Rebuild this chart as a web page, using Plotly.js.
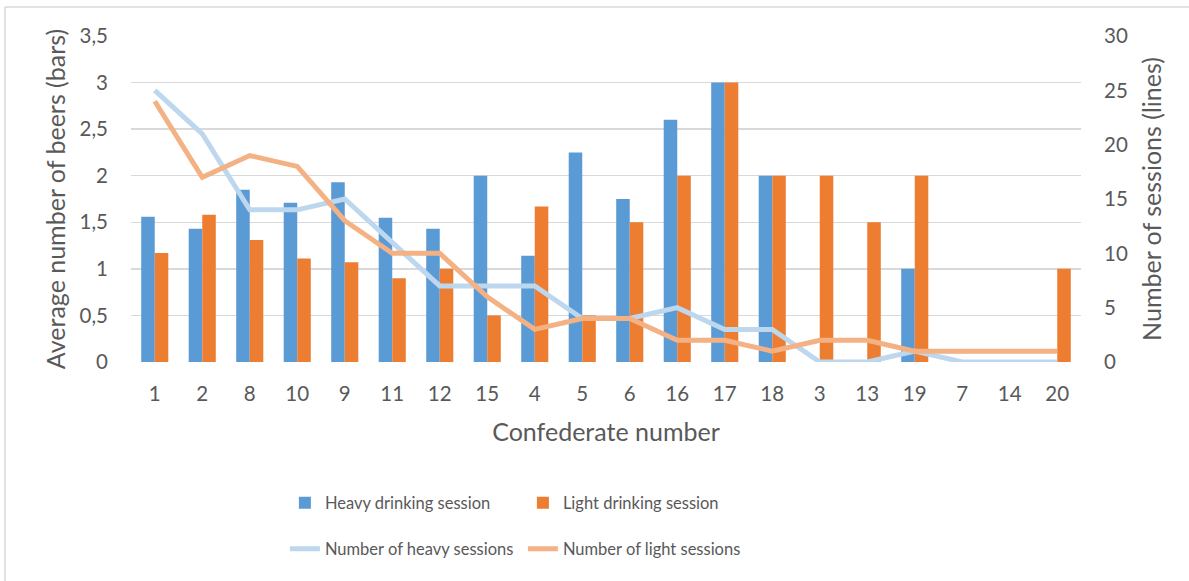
<!DOCTYPE html>
<html>
<head>
<meta charset="utf-8">
<script src="https://cdn.plot.ly/plotly-3.0.1.min.js"></script>
<style>
  html, body { margin: 0; padding: 0; background: #fff; }
  #chart { width: 1189px; height: 581px; }
</style>
</head>
<body>
<div id="chart"></div>
<script>
const confederates = ['1','2','8','10','9','11','12','15','4','5','6','16','17','18','3','13','19','7','14','20'];
const heavyBeers = [1.56,1.43,1.85,1.71,1.93,1.55,1.43,2.0,1.14,2.25,1.75,2.6,3.0,2.0,0,0,1.0,0,0,0];
const lightBeers = [1.17,1.58,1.31,1.11,1.07,0.9,1.0,0.5,1.67,0.5,1.5,2.0,3.0,2.0,2.0,1.5,2.0,0,0,1.0];
const heavySessions = [25,21,14,14,15,11,7,7,7,4,4,5,3,3,0,0,1,0,0,0];
const lightSessions = [24,17,19,18,13,10,10,6,3,4,4,2,2,1,2,2,1,1,1,1];

const FONT = 'Lato, "Open Sans", sans-serif';
const TXT = '#595959';

const traces = [
  {type:'bar', name:'Heavy drinking session', x:confederates, y:heavyBeers,
   marker:{color:'#5B9BD5'}, legend:'legend', hoverinfo:'x+y'},
  {type:'bar', name:'Light drinking session', x:confederates, y:lightBeers,
   marker:{color:'#ED7D31'}, legend:'legend', hoverinfo:'x+y'},
  {type:'scatter', mode:'lines', name:'Number of heavy sessions', x:confederates, y:heavySessions,
   yaxis:'y2', line:{color:'#BDD7EE', width:5}, legend:'legend2'},
  {type:'scatter', mode:'lines', name:'Number of light sessions', x:confederates, y:lightSessions,
   yaxis:'y2', line:{color:'#F4B183', width:5}, legend:'legend2'}
];

const layout = {
  width:1189, height:581,
  margin:{l:131, r:108, t:36, b:219},
  paper_bgcolor:'#fff', plot_bgcolor:'#fff',
  separators:',.',
  font:{family:FONT, color:TXT, size:18},
  barmode:'group', bargap:0.43, bargroupgap:0,
  showlegend:true,
  xaxis:{type:'category', showgrid:false, zeroline:false, showline:false, ticks:'',
         ticklabelstandoff:17, tickfont:{size:20.5, color:TXT},
         title:{text:'Confederate number', font:{size:25, color:TXT}, standoff:19}},
  yaxis:{range:[0,3.5], dtick:0.5, tick0:0, showgrid:true, gridcolor:'#D9D9D9', gridwidth:1.5,
         zeroline:false, showline:false, ticks:'', ticklabelstandoff:22,
         tickfont:{size:20.5, color:TXT},
         title:{text:'Average number of beers (bars)', font:{size:25, color:TXT}, standoff:6}},
  yaxis2:{range:[0,30], dtick:5, tick0:0, overlaying:'y', side:'right', showgrid:false,
          zeroline:false, showline:false, ticks:'', ticklabelstandoff:22,
          tickfont:{size:20.5, color:TXT},
          title:{text:'Number of sessions (lines)', font:{size:25, color:TXT}, standoff:16}},
  legend:{orientation:'h', x:0.162, xanchor:'left', y:-0.4325, yanchor:'middle',
          entrywidth:193, entrywidthmode:'pixels', font:{size:16.5, color:TXT}, bgcolor:'rgba(0,0,0,0)'},
  legend2:{orientation:'h', x:0.162, xanchor:'left', y:-0.574, yanchor:'middle',
          entrywidth:193, entrywidthmode:'pixels', font:{size:16.5, color:TXT}, bgcolor:'rgba(0,0,0,0)'},
  shapes:[
    {type:'line', xref:'paper', yref:'paper', x0:-0.1326, x1:1.12, y0:1.089, y1:1.089, line:{color:'#D9D9D9', width:1.5}},
    {type:'line', xref:'paper', yref:'paper', x0:-0.1326, x1:-0.1326, y0:1.089, y1:-0.7, line:{color:'#D9D9D9', width:1.5}}
  ]
};

Plotly.newPlot('chart', traces, layout, {displayModeBar:false, staticPlot:true});
</script>
</body>
</html>
